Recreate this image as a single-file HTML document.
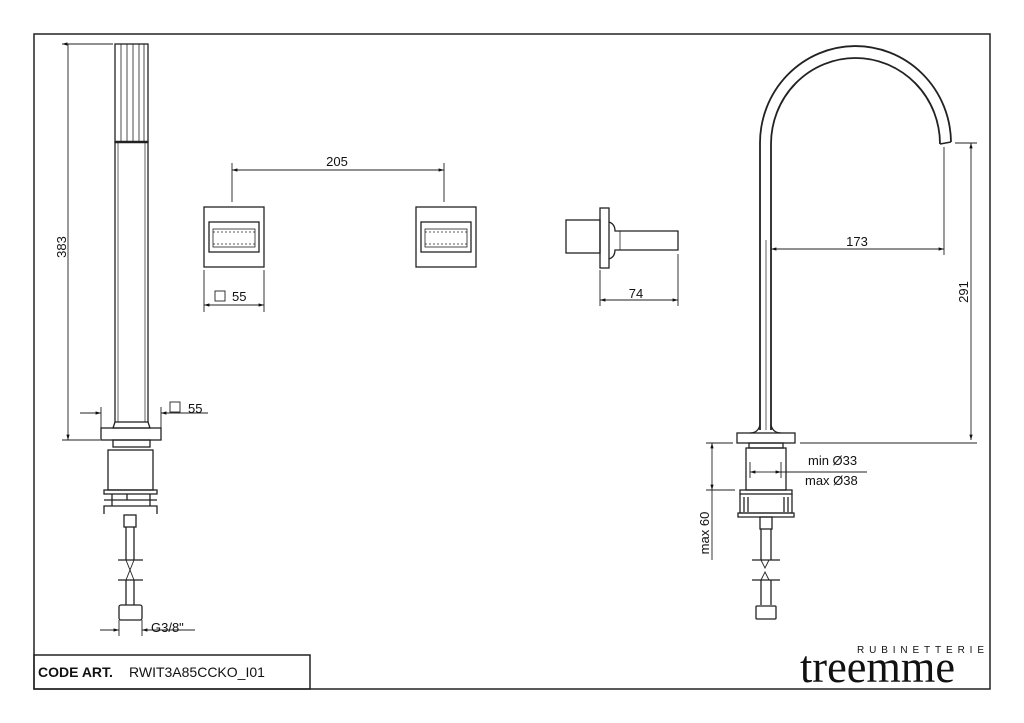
<!DOCTYPE html>
<html><head><meta charset="utf-8"><style>
body{margin:0;background:#fff;width:1024px;height:723px;overflow:hidden}
svg{display:block}
text{font-family:"Liberation Sans",sans-serif;fill:#111}
</style></head><body>
<svg width="1024" height="723" viewBox="0 0 1024 723" xmlns="http://www.w3.org/2000/svg">
<defs><marker id="a" viewBox="0 0 10 10" refX="10" refY="5" markerWidth="9" markerHeight="6" orient="auto-start-reverse"><path d="M0,2 L10,5 L0,8z" fill="#111"/></marker></defs>
<g fill="none" stroke="#222" stroke-width="1.3">
<rect x="34" y="34" width="956" height="655" stroke-width="1.5"/>
<rect x="34" y="655" width="276" height="34" stroke-width="1.5"/>
<!-- left handshower -->
<rect x="115" y="44" width="33" height="98"/>
<path d="M121,44V142M127,44V142M133,44V142M139,44V142M144,44V142" stroke-width="0.8"/>
<path d="M115,142H148" stroke-width="2.5"/>
<rect x="115" y="142" width="33" height="280"/>
<path d="M118,142V422M145,142V422" stroke-width="0.7"/>
<path d="M115,422 L113,428 H150 L148,422"/>
<rect x="101" y="428" width="60" height="12"/>
<rect x="113" y="440" width="37" height="7"/>
<rect x="108" y="450" width="45" height="40"/>
<rect x="104" y="490" width="53" height="4"/>
<path d="M104,500H157M104,514V506H157V514M112,494V506M150,494V506M127,494V500"/>
<rect x="124" y="515" width="12" height="12"/>
<path d="M126,527V560M134,527V560M118,560H143M118,580H143M126,580V605M134,580V605"/>
<path d="M126,560l4,10 4,-10M126,580l4,-10 4,10" stroke-width="0.9"/>
<rect x="119" y="605" width="23" height="15" rx="2"/>
<!-- dims left -->
<path d="M62,44H113M62,440H100M68,44V440" marker-start="url(#a)" marker-end="url(#a)" stroke-width="0.9"/>
<path d="M80,413H101M161,413H208" stroke-width="0.9"/>
<path d="M101,407V430M161,407V428" stroke-width="0.9"/>
<path d="M84,413H101" marker-end="url(#a)" stroke-width="0.9"/>
<path d="M178,413H161" marker-end="url(#a)" stroke-width="0.9"/>
<rect x="170" y="402" width="10" height="10" stroke-width="0.9"/>
<path d="M119,620V636M142,620V636M100,630H119M142,630H195" stroke-width="0.9"/>
<path d="M104,630H119" marker-end="url(#a)" stroke-width="0.9"/>
<path d="M158,630H142" marker-end="url(#a)" stroke-width="0.9"/>
<!-- squares -->
<rect x="204" y="207" width="60" height="60"/>
<rect x="209" y="222" width="50" height="30"/>
<rect x="213" y="229" width="42" height="18" stroke-width="0.8"/>
<path d="M213,232H255M213,244H255" stroke-dasharray="2,2" stroke-width="0.8"/>
<rect x="416" y="207" width="60" height="60"/>
<rect x="421" y="222" width="50" height="30"/>
<rect x="425" y="229" width="42" height="18" stroke-width="0.8"/>
<path d="M425,232H467M425,244H467" stroke-dasharray="2,2" stroke-width="0.8"/>
<path d="M232,163V202M444,163V202" stroke-width="0.9"/>
<path d="M232,170H444" marker-start="url(#a)" marker-end="url(#a)" stroke-width="0.9"/>
<path d="M204,270V312M264,270V312" stroke-width="0.9"/>
<path d="M204,305H264" marker-start="url(#a)" marker-end="url(#a)" stroke-width="0.9"/>
<rect x="215" y="291" width="10" height="10" stroke-width="0.9"/>
<!-- valve side -->
<rect x="566" y="220" width="34" height="33"/>
<rect x="600" y="208" width="9" height="60"/>
<path d="M609,222 q6,2 6,9 H678 V250 H615 q0,7 -6,9"/>
<path d="M620,231V250" stroke-width="0.8"/>
<path d="M600,270V306M678,254V306" stroke-width="0.9"/>
<path d="M600,300H678" marker-start="url(#a)" marker-end="url(#a)" stroke-width="0.9"/>
<!-- spout -->
<path d="M760,430V144 A95.5,97 0 0 1 951,142" stroke-width="1.8"/>
<path d="M771,430V144 A84.5,86 0 0 1 940,144" stroke-width="1.8"/>
<path d="M940,144L951,142" stroke-width="1.5"/>
<path d="M766,240V430" stroke-width="0.7"/>
<path d="M760,425 q-2,8 -10,8 M771,425 q2,8 10,8"/>
<rect x="737" y="433" width="58" height="10"/>
<rect x="749" y="443" width="34" height="5"/>
<rect x="746" y="448" width="40" height="42"/>
<rect x="740" y="490" width="52" height="4"/>
<path d="M740,494V513H792V494M744,497V512M788,497V512M748,497V512M784,497V512"/>
<path d="M738,513H794V517H738z"/>
<rect x="760" y="517" width="12" height="12"/>
<path d="M761,529V560M771,529V560M752,560H780M752,580H780M761,580V605M771,580V605"/>
<path d="M761,560l4,8 4,-8M761,580l4,-8 4,8" stroke-width="0.9"/>
<rect x="756" y="606" width="20" height="13" rx="1"/>
<!-- right dims -->
<path d="M944,147V255" stroke-width="0.9"/>
<path d="M771,249H944" marker-start="url(#a)" marker-end="url(#a)" stroke-width="0.9"/>
<path d="M955,143H977M800,443H977" stroke-width="0.9"/>
<path d="M971,143V440" marker-start="url(#a)" marker-end="url(#a)" stroke-width="0.9"/>
<path d="M706,443H733M706,490H735" stroke-width="0.9"/>
<path d="M712,443V490" marker-start="url(#a)" marker-end="url(#a)" stroke-width="0.9"/>
<path d="M712,490V560" stroke-width="0.9"/>
<path d="M750,462V478M781,462V478M781,472H867" stroke-width="0.9"/>
<path d="M750,472H766" marker-start="url(#a)" stroke-width="0.9"/>
<path d="M766,472H781" marker-end="url(#a)" stroke-width="0.9"/>
</g>
<g font-size="13">
<text x="337" y="166" text-anchor="middle">205</text>
<text x="232" y="301">55</text>
<text x="636" y="298" text-anchor="middle">74</text>
<text x="857" y="246" text-anchor="middle">173</text>
<text x="188" y="413">55</text>
<text x="151" y="632">G3/8"</text>
<text x="808" y="465">min Ø33</text>
<text x="805" y="485">max Ø38</text>
<text transform="translate(66,247) rotate(-90)" text-anchor="middle">383</text>
<text transform="translate(968,292) rotate(-90)" text-anchor="middle">291</text>
<text transform="translate(709,533) rotate(-90)" text-anchor="middle">max 60</text>
</g>
<text x="38" y="677" font-size="14" font-weight="bold">CODE ART.</text>
<text x="129" y="677" font-size="14">RWIT3A85CCKO_I01</text>
<text x="857" y="653" font-size="10" textLength="127">RUBINETTERIE</text>
<text x="800" y="682" font-size="46" style="font-family:'Liberation Serif',serif" textLength="155" lengthAdjust="spacingAndGlyphs">treemme</text>
</svg>
</body></html>
